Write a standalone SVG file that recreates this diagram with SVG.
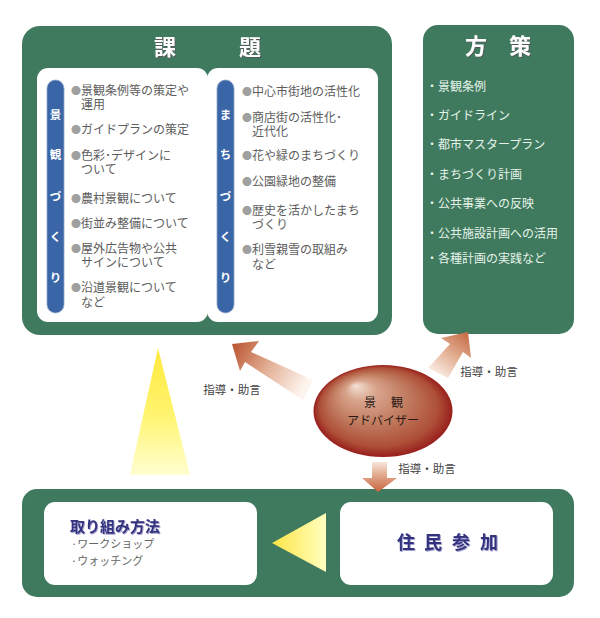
<svg xmlns="http://www.w3.org/2000/svg" width="600" height="618" viewBox="0 0 600 618">
<style>
text{font-family:"Noto Sans CJK JP","Noto Sans",sans-serif}
.panel{fill:#3f7a5e}
.card{fill:#fff}
.pill{fill:#3a66a8;stroke:#8fa6c8;stroke-width:.8}
.item{font-size:12px;fill:#5c5c5c}
.bul{fill:#a0a0a0;font-size:10px}
.pl{font-size:11.5px;fill:#fff;font-weight:700;text-anchor:middle}
.title{font-size:22px;font-weight:700;fill:#fff;text-anchor:middle;filter:url(#sh)}
.pol{font-size:12px;fill:#e6f3ea}
.lab{font-size:11.5px;fill:#444;text-anchor:middle}
.navy{font-weight:700;fill:#33337f;filter:url(#sn)}
.sub{font-size:11px;fill:#666}
</style>
<defs>
<filter id="sh" x="-20%" y="-20%" width="150%" height="150%"><feDropShadow dx="1" dy="1" stdDeviation=".5" flood-color="#555" flood-opacity=".9"/></filter>
<filter id="sn" x="-20%" y="-20%" width="150%" height="150%"><feDropShadow dx=".8" dy=".8" stdDeviation=".4" flood-color="#8a88c0"/></filter>
<radialGradient id="egg" cx=".5" cy=".5" r=".5" fx=".3" fy=".22">
<stop offset="0" stop-color="#f4e0d4"/><stop offset=".22" stop-color="#d8a48c"/><stop offset=".55" stop-color="#c07a5e"/><stop offset=".85" stop-color="#ae4f38"/><stop offset="1" stop-color="#981f1c"/>
</radialGradient>
<linearGradient id="aL" gradientUnits="userSpaceOnUse" x1="235" y1="346" x2="310" y2="390"><stop offset="0" stop-color="#bd5a36"/><stop offset=".45" stop-color="#e3b096"/><stop offset=".92" stop-color="#fdf4ee"/></linearGradient>
<linearGradient id="aR" gradientUnits="userSpaceOnUse" x1="466" y1="335" x2="436" y2="375"><stop offset="0" stop-color="#c9714c"/><stop offset=".5" stop-color="#e3b094"/><stop offset="1" stop-color="#fbeee6"/></linearGradient>
<linearGradient id="aD" gradientUnits="userSpaceOnUse" x1="378" y1="492" x2="378" y2="460"><stop offset="0" stop-color="#c8643f"/><stop offset=".5" stop-color="#e0a688"/><stop offset="1" stop-color="#fbeee6"/></linearGradient>
<linearGradient id="yU" gradientUnits="userSpaceOnUse" x1="158" y1="350" x2="158" y2="476"><stop offset="0" stop-color="#ffe93f"/><stop offset=".5" stop-color="#fff46e"/><stop offset="1" stop-color="#ffffd2"/></linearGradient>
<linearGradient id="yL" gradientUnits="userSpaceOnUse" x1="272" y1="543" x2="326" y2="543"><stop offset="0" stop-color="#ffe445"/><stop offset="1" stop-color="#ffffc0"/></linearGradient>
</defs>
<rect width="600" height="618" fill="#fff"/>

<g id="kadai">
<rect class="panel" x="22" y="26" width="370" height="309" rx="18"/>
<text class="title" x="165 250" y="55">課題</text>
</g>
<g id="keikan">
<rect class="card" x="37" y="68" width="171" height="254" rx="11"/>
<rect class="pill" x="47" y="80" width="17" height="233" rx="8.5"/>
<text class="pl" x="55.5 55.5 55.5 55.5 55.5" y="119 159 201 241 282">景観づくり</text>
<g class="item">
<text x="71" y="95"><tspan class="bul">●</tspan>景観条例等の策定や<tspan x="81" dy="14">運用</tspan></text>
<text x="71" y="134"><tspan class="bul">●</tspan>ガイドプランの策定</text>
<text x="71" y="160"><tspan class="bul">●</tspan>色彩･デザインに<tspan x="81" dy="14">ついて</tspan></text>
<text x="71" y="203"><tspan class="bul">●</tspan>農村景観について</text>
<text x="71" y="228"><tspan class="bul">●</tspan>街並み整備について</text>
<text x="71" y="253"><tspan class="bul">●</tspan>屋外広告物や公共<tspan x="81" dy="14">サインについて</tspan></text>
<text x="71" y="292"><tspan class="bul">●</tspan>沿道景観について<tspan x="81" dy="15">など</tspan></text>
</g>
</g>
<g id="machi">
<rect class="card" x="207" y="68" width="171" height="254" rx="11"/>
<rect class="pill" x="217" y="80" width="17" height="233" rx="8.5"/>
<text class="pl" x="225.5 225.5 225.5 225.5 225.5" y="119 159 201 241 282">まちづくり</text>
<g class="item">
<text x="242" y="96"><tspan class="bul">●</tspan>中心市街地の活性化</text>
<text x="242" y="122"><tspan class="bul">●</tspan>商店街の活性化･<tspan x="252" dy="14">近代化</tspan></text>
<text x="242" y="160"><tspan class="bul">●</tspan>花や緑のまちづくり</text>
<text x="242" y="186"><tspan class="bul">●</tspan>公園緑地の整備</text>
<text x="242" y="215"><tspan class="bul">●</tspan>歴史を活かしたまち<tspan x="252" dy="14">づくり</tspan></text>
<text x="242" y="254"><tspan class="bul">●</tspan>利雪親雪の取組み<tspan x="252" dy="15">など</tspan></text>
</g>
</g>

<g id="housaku">
<rect class="panel" x="423" y="25" width="151" height="309" rx="15"/>
<text class="title" x="476 520" y="54">方策</text>
<g class="pol">
<text x="426" y="91">・景観条例</text>
<text x="426" y="120">・ガイドライン</text>
<text x="426" y="149">・都市マスタープラン</text>
<text x="426" y="179">・まちづくり計画</text>
<text x="426" y="208">・公共事業への反映</text>
<text x="426" y="238">・公共施設計画への活用</text>
<text x="426" y="263">・各種計画の実践など</text>
</g>
</g>

<g id="bottom">
<rect class="panel" x="22" y="489" width="552" height="108" rx="15"/>
</g>
<g id="torikumi">
<rect class="card" x="44" y="502" width="213" height="83" rx="11"/>
<text class="navy" x="70" y="532" font-size="15">取り組み方法</text>
<text class="sub" x="71" y="548">·ワークショップ</text>
<text class="sub" x="71" y="565">·ウォッチング</text>
</g>
<g id="jumin">
<rect class="card" x="340" y="502" width="213" height="83" rx="11"/>
<text class="navy" x="406 433 461 489" y="549" font-size="18" text-anchor="middle">住民参加</text>
</g>

<g id="connectors">
<path fill="url(#aL)" d="M232 344L259 341 251 352 313 380 303 400 245 362 240 371Z"/>
<path fill="url(#aR)" d="M468 332L441 338 450 344 428 368 448 378 463 352 471 358Z"/>
<path fill="url(#aD)" d="M372 462H387V478H397L378 492 362 478H372Z"/>
<path fill="url(#yU)" d="M158 348L190 475H130Z"/>
<path fill="url(#yL)" d="M272 543L326 513V572Z"/>
</g>

<g id="adviser">
<ellipse cx="383" cy="411" rx="69.5" ry="46" fill="url(#egg)"/>
<text x="370 397" y="407" font-size="12" fill="#2a1a16" text-anchor="middle">景観</text>
<text x="383" y="425" font-size="12" fill="#2a1a16" text-anchor="middle">アドバイザー</text>
</g>

<g id="labels">
<text class="lab" x="232" y="394">指導・助言</text>
<text class="lab" x="489" y="376">指導・助言</text>
<text class="lab" x="427" y="473">指導・助言</text>
</g>
</svg>
